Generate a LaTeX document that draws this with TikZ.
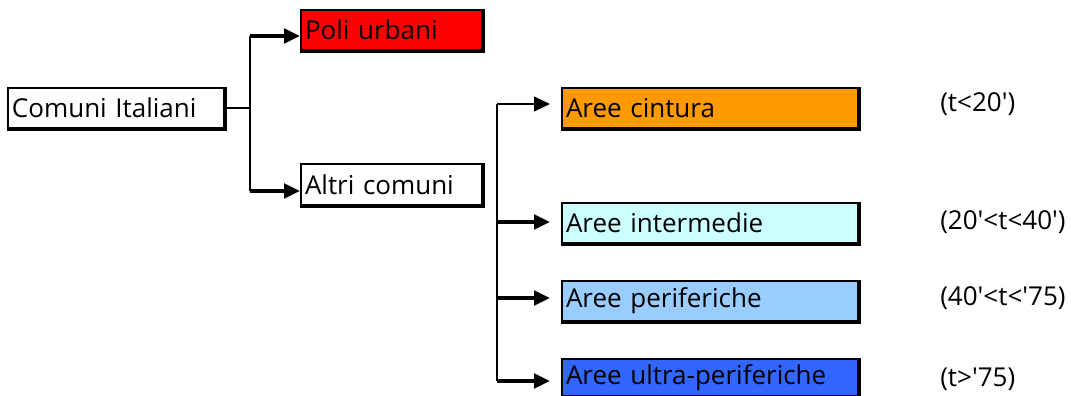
\documentclass[tikz,border=0pt]{standalone}
\usepackage{fontspec}
\setmainfont{Open Sans}
\usetikzlibrary{arrows.meta}
\definecolor{cRed}{HTML}{FF0000}
\definecolor{cOrange}{HTML}{FF9900}
\definecolor{cCyan}{HTML}{CCFFFF}
\definecolor{cLblue}{HTML}{99CCFF}
\definecolor{cBlue}{HTML}{3366FF}
\newcommand{\q}{\textquotesingle}
\tikzset{
  box/.style={draw=black, line width=1.5pt, anchor=north west, inner xsep=3pt, inner ysep=0pt, align=left, font=\fontsize{19.5}{22}\selectfont},
  lbl/.style={anchor=west, inner sep=0pt, font=\fontsize{19.5}{22}\selectfont},
  shadowline/.style={line width=2.6pt},
  con/.style={line width=1.6pt},
  arr/.style={line width=2.6pt, -{Triangle[length=12pt,width=11pt]}},
  arrthin/.style={line width=1.6pt, -{Triangle[length=12pt,width=11pt]}}
}
\begin{document}
\begin{tikzpicture}[x=0.75pt,y=-0.75pt]
\useasboundingbox (0,0) rectangle (1071,396);
% boxes
\node[box, fill=white, text width=156pt, minimum height=30pt] (ci) at (7,87) {Comuni Italiani};
\node[box, fill=cRed, text width=130pt, minimum height=30pt] (pu) at (300,9) {Poli urbani};
\node[box, fill=white, text width=130pt, minimum height=30.75pt] (ac) at (300,163) {Altri comuni};
\node[box, fill=cOrange, text width=216pt, minimum height=30pt] (cin) at (561,87) {Aree cintura};
\node[box, fill=cCyan, text width=216pt, minimum height=30pt] (int) at (561,202) {Aree intermedie};
\node[box, fill=cLblue, text width=216pt, minimum height=30pt] (per) at (561,280) {Aree periferiche};
\node[box, fill=cBlue, text width=216pt, minimum height=27.75pt] (ult) at (561,358) {Aree ultra-periferiche};
% shadow edges
\foreach \n in {ci,pu,ac,cin,int,per,ult}
  \draw[shadowline] (\n.north east) -- (\n.south east) -- (\n.south west);
% labels
\node[lbl] (l1) at (940,104) {(t<20\q)};
\node[lbl] (l2) at (940,222) {(20\q<t<40\q)};
\node[lbl] (l3) at (940,298) {(40\q<t<\q75)};
\node[lbl] (l4) at (940,379) {(t>\q75)};
% first level connectors
\coordinate (j0) at (250,108);
\coordinate (j1) at (250,36);
\coordinate (j2) at (250,191);
\draw[con] (ci.east |- j0) -- (j0);
\draw[con] (j1) -- (j2);
\draw[arr] (j1) -- (j1 -| pu.west);
\draw[arr] (j2) -- (j2 -| ac.west);
% second level connectors
\coordinate (k1) at (497,104);
\coordinate (k2) at (497,222);
\coordinate (k3) at (497,298);
\coordinate (k4) at (497,381);
\draw[con] (k1) -- (k4);
\draw[arrthin] (k1) -- ([xshift=-8.25pt]k1 -| cin.west);
\draw[arr] (k2) -- ([xshift=-8.25pt]k2 -| int.west);
\draw[arr] (k3) -- ([xshift=-8.25pt]k3 -| per.west);
\draw[arr] (k4) -- ([xshift=-8.25pt]k4 -| ult.west);
\end{tikzpicture}
\end{document}
